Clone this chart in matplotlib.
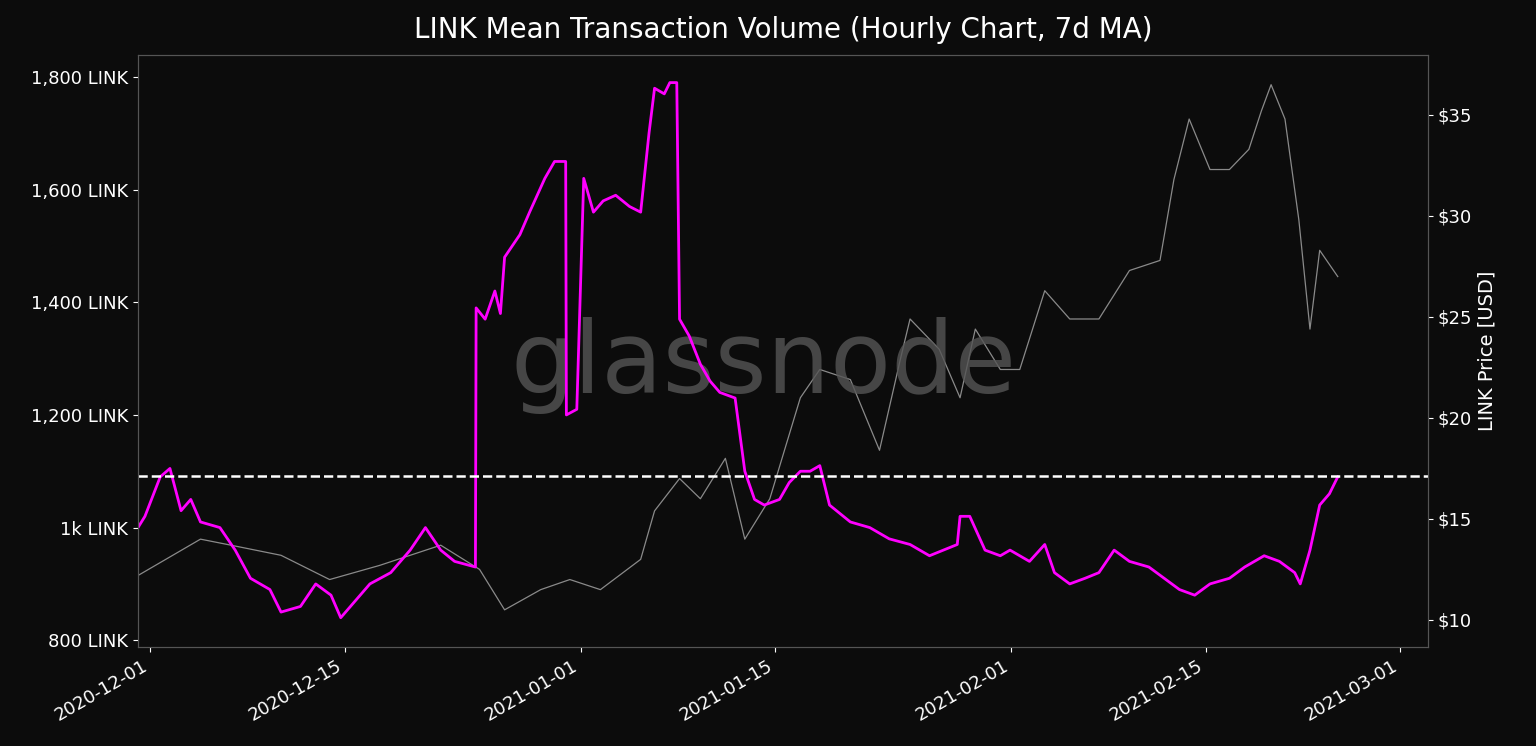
import numpy as np
import pandas as pd
import matplotlib.pyplot as plt
import matplotlib.dates as mdates

START = pd.Timestamp("2020-12-01")

# volume series (day offset from 2020-12-01, LINK)
vol_days = [-0.9, -0.4, 0.7, 1.4, 2.2, 2.9, 3.6, 5.0, 6.1, 7.2, 8.6, 9.4, 10.8, 11.9, 13.0, 13.7, 14.4, 15.8, 17.3, 18.7,
            19.8, 20.9, 21.9, 23.4, 23.45, 24.1, 24.8, 25.2, 25.5, 26.6, 27.3, 28.4, 29.1, 29.9, 29.95, 30.7, 31.2, 31.9,
            32.6, 33.5, 34.5, 35.3, 35.9, 36.3, 37.0, 37.4, 37.9, 38.1, 38.8, 39.6, 40.3, 41.0, 42.1, 42.8, 43.5, 44.2,
            45.3, 46.0, 46.8, 47.5, 48.2, 48.9, 50.4, 51.8, 53.2, 54.7, 56.1, 58.1, 58.3, 59.0, 60.1, 61.2, 61.9, 63.3,
            64.4, 65.1, 66.2, 67.3, 68.3, 69.4, 70.5, 71.9, 73.0, 74.1, 75.2, 76.3, 77.7, 78.8, 80.2, 81.3, 82.4, 82.8,
            83.5, 84.2, 84.9, 85.5]
vol_vals = [1000, 1020, 1090, 1105, 1030, 1050, 1010, 1000, 960, 910, 890, 850, 860, 900, 880, 840, 860, 900, 920, 960,
            1000, 960, 940, 930, 1390, 1370, 1420, 1380, 1480, 1520, 1560, 1620, 1650, 1650, 1200, 1210, 1620, 1560,
            1580, 1590, 1570, 1560, 1700, 1780, 1770, 1790, 1790, 1370, 1340, 1290, 1260, 1240, 1230, 1100, 1050, 1040,
            1050, 1080, 1100, 1100, 1110, 1040, 1010, 1000, 980, 970, 950, 970, 1020, 1020, 960, 950, 960, 940, 970,
            920, 900, 910, 920, 960, 940, 930, 910, 890, 880, 900, 910, 930, 950, 940, 920, 900, 960, 1040, 1060, 1090]

# price series (day offset, USD)
price_days = [-0.9, 3.6, 5.8, 9.4, 12.9, 16.5, 20.9, 23.7, 25.5, 28.1, 30.2, 32.4, 35.3, 36.3, 38.1, 39.6, 41.4, 42.8,
              44.6, 46.8, 48.2, 50.4, 52.5, 54.0, 54.7, 56.8, 58.3, 59.4, 61.2, 62.6, 64.4, 66.2, 68.3, 70.5, 72.7,
              73.7, 74.8, 76.3, 77.7, 79.1, 80.0, 80.7, 81.7, 82.7, 83.5, 84.2, 85.5]
price_vals = [12.2, 14.0, 13.7, 13.2, 12.0, 12.7, 13.7, 12.5, 10.5, 11.5, 12.0, 11.5, 13.0, 15.4, 17.0, 16.0, 18.0, 14.0,
              16.0, 21.0, 22.4, 21.9, 18.4, 22.9, 24.9, 23.4, 21.0, 24.4, 22.4, 22.4, 26.3, 24.9, 24.9, 27.3, 27.8,
              31.8, 34.8, 32.3, 32.3, 33.3, 35.2, 36.5, 34.8, 29.8, 24.4, 28.3, 27.0]

vol_dates = [START + pd.Timedelta(days=d) for d in vol_days]
price_dates = [START + pd.Timedelta(days=d) for d in price_days]

bg = "#0c0c0c"
fig = plt.figure(figsize=(15.36, 7.46), dpi=100, facecolor=bg)
ax = fig.add_axes([138 / 1536, 1 - 647 / 746, 1290 / 1536, 592 / 746], facecolor=bg)
ax2 = ax.twinx()

ax2.plot(price_dates, price_vals, color="#8a8a8a", lw=0.9)
ax.plot(vol_dates, vol_vals, color="#ff00ff", lw=2)
ax.axhline(1091, color="white", ls="--", lw=1.8)
ax.set_zorder(ax2.get_zorder() + 1)
ax.patch.set_visible(False)
ax2.patch.set_facecolor(bg)

ax.set_ylim(788, 1839)
ax2.set_ylim(8.66, 37.97)
ax.set_xlim(START - pd.Timedelta(days=0.9), START + pd.Timedelta(days=92))

ax.set_yticks([800, 1000, 1200, 1400, 1600, 1800])
ax.set_yticklabels(["800 LINK", "1k LINK", "1,200 LINK", "1,400 LINK", "1,600 LINK", "1,800 LINK"])
ax2.set_yticks([10, 15, 20, 25, 30, 35])
ax2.set_yticklabels(["$10", "$15", "$20", "$25", "$30", "$35"])
ax2.set_ylabel("LINK Price [USD]", color="white", fontsize=14)

ticks = pd.to_datetime(["2020-12-01", "2020-12-15", "2021-01-01", "2021-01-15", "2021-02-01", "2021-02-15", "2021-03-01"])
ax.set_xticks(ticks)
ax.xaxis.set_major_formatter(mdates.DateFormatter("%Y-%m-%d"))
plt.setp(ax.get_xticklabels(), rotation=30, ha="right")

for a in (ax, ax2):
    a.tick_params(colors="white", labelsize=13)
    for s in a.spines.values():
        s.set_color("#555555")

ax.set_title("LINK Mean Transaction Volume (Hourly Chart, 7d MA)", color="white", fontsize=20, pad=12)
fig.text(0.497, 0.51, "glassnode", color="#555555", alpha=0.8, fontsize=72, ha="center", va="center",
         zorder=0)

fig.savefig("out.png", facecolor=bg)
